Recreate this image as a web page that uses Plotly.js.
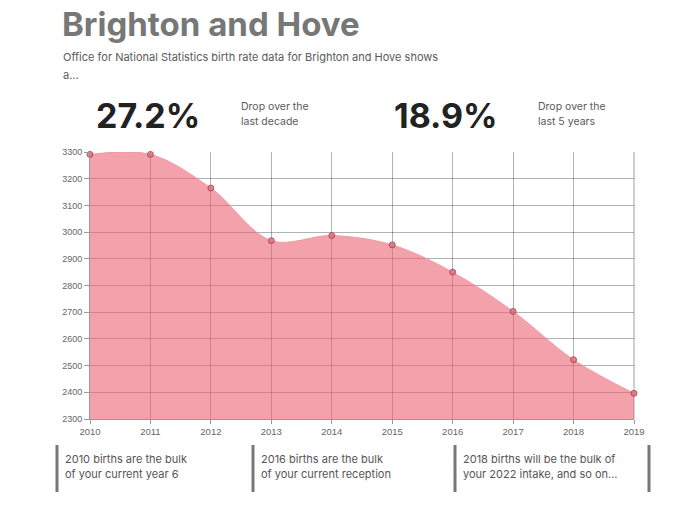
<!DOCTYPE html>
<html>
<head>
<meta charset="utf-8">
<script src="https://cdn.plot.ly/plotly-3.0.1.min.js"></script>
<style>html,body{margin:0;padding:0;background:#fff;}#chart{width:700px;height:508px;}</style>
</head>
<body>
<div id="chart"></div>
<script>
const years = [2010, 2011, 2012, 2013, 2014, 2015, 2016, 2017, 2018, 2019];
const births = [3291, 3291, 3165, 2968, 2987, 2952, 2850, 2703, 2522, 2396];
const yTicks = [2300, 2400, 2500, 2600, 2700, 2800, 2900, 3000, 3100, 3200, 3300];

const titleText = 'Brighton and Hove';
const subtitleLines = ['Office for National Statistics birth rate data for Brighton and Hove shows', 'a...'];
const stats = [
  {value: '27.2%', label: ['Drop over the', 'last decade']},
  {value: '18.9%', label: ['Drop over the', 'last 5 years']}
];
const notes = [
  ['2010 births are the bulk', 'of your current year 6'],
  ['2016 births are the bulk', 'of your current reception'],
  ['2018 births will be the bulk of', 'your 2022 intake, and so on...']
];

const W = 700, H = 508;
const L = 90, R = 634, T = 152, B = 419;
const px = x => (x - L) / (R - L);
const py = y => (B - y) / (B - T);

const textFont = 'Inter, "Open Sans", sans-serif';
const annotations = [];
const shapes = [];

annotations.push({xref:'paper', yref:'paper', x: px(60), y: py(24), xanchor:'left', yanchor:'middle',
  text: '<b>' + titleText + '</b>', showarrow:false, font:{family:textFont, size:33, color:'#777777'}});
annotations.push({xref:'paper', yref:'paper', x: px(61), y: py(57), xanchor:'left', yanchor:'middle',
  text: subtitleLines[0], showarrow:false, font:{family:textFont, size:11, color:'#5a5a5a'}});
annotations.push({xref:'paper', yref:'paper', x: px(61), y: py(75), xanchor:'left', yanchor:'middle',
  text: subtitleLines[1], showarrow:false, font:{family:textFont, size:11, color:'#5a5a5a'}});

const statX = [94, 392], labelX = [239, 536];
stats.forEach((s, i) => {
  annotations.push({xref:'paper', yref:'paper', x: px(statX[i]), y: py(116), xanchor:'left', yanchor:'middle',
    text: '<b>' + s.value + '</b>', showarrow:false, font:{family:textFont, size:34, color:'#222222'}});
  annotations.push({xref:'paper', yref:'paper', x: px(labelX[i]), y: py(106), xanchor:'left', yanchor:'middle',
    text: s.label[0], showarrow:false, font:{family:textFont, size:10.5, color:'#5a5a5a'}});
  annotations.push({xref:'paper', yref:'paper', x: px(labelX[i]), y: py(122), xanchor:'left', yanchor:'middle',
    text: s.label[1], showarrow:false, font:{family:textFont, size:10.5, color:'#5a5a5a'}});
});

const barX = [57, 253, 455, 649];
barX.forEach(x => {
  shapes.push({type:'line', xref:'paper', yref:'paper', x0: px(x), x1: px(x), y0: py(445), y1: py(492),
    line:{color:'#777777', width:3}});
});
notes.forEach((n, i) => {
  annotations.push({xref:'paper', yref:'paper', x: px(barX[i] + 6), y: py(459), xanchor:'left', yanchor:'middle',
    text: n[0], showarrow:false, font:{family:textFont, size:11, color:'#555555'}});
  annotations.push({xref:'paper', yref:'paper', x: px(barX[i] + 6), y: py(474), xanchor:'left', yanchor:'middle',
    text: n[1], showarrow:false, font:{family:textFont, size:11, color:'#555555'}});
});

// right border of plot area
shapes.push({type:'line', xref:'paper', yref:'paper', x0:1, x1:1, y0:0, y1:1, layer:'below', line:{color:'#d0d0d0', width:2}});

const trace = {
  x: years, y: births, type:'scatter', mode:'lines+markers',
  line:{shape:'spline', smoothing:1, color:'rgba(240,150,160,0.9)', width:1},
  fill:'tozeroy', fillcolor:'rgba(235,100,115,0.6)',
  marker:{size:6, color:'rgba(225,110,120,0.85)', line:{color:'rgba(150,70,80,0.8)', width:1}},
  hoverinfo:'skip', cliponaxis:false
};

const layout = {
  width: W, height: H,
  margin:{l: L, r: W - R, t: T, b: H - B, pad:0},
  paper_bgcolor:'#ffffff', plot_bgcolor:'#ffffff',
  showlegend:false,
  xaxis:{range:[2010, 2019], tickvals: years, ticktext: years.map(String),
    showgrid:true, gridcolor:'rgba(0,0,0,0.3)', gridwidth:1,
    showline:true, linecolor:'#999999', linewidth:1,
    ticks:'outside', ticklen:4, tickcolor:'#999999',
    tickfont:{family:'"Liberation Sans", Arial, sans-serif', size:9.5, color:'#666666'}, zeroline:false, fixedrange:true},
  yaxis:{range:[2300, 3300], tickvals: yTicks,
    showgrid:true, gridcolor:'rgba(0,0,0,0.3)', gridwidth:1,
    showline:true, linecolor:'#999999', linewidth:1,
    ticks:'outside', ticklen:5, tickcolor:'#999999',
    tickfont:{family:'"Liberation Sans", Arial, sans-serif', size:9, color:'#666666'}, zeroline:false, fixedrange:true},
  annotations: annotations,
  shapes: shapes
};

Plotly.newPlot('chart', [trace], layout, {displayModeBar:false, staticPlot:true});
</script>
</body>
</html>
